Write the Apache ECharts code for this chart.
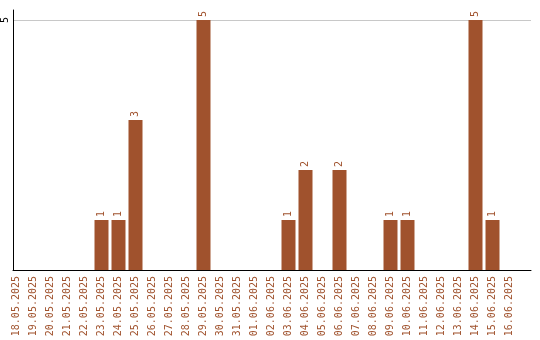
<!DOCTYPE html>
<html><head><meta charset="utf-8">
<script src="https://cdn.jsdelivr.net/npm/echarts@6/dist/echarts.min.js"></script>
<style>html,body{margin:0;padding:0;background:#fff}#c{width:540px;height:340px}</style>
</head><body><div id="c"></div>
<script>
var categories = ['18.05.2025','19.05.2025','20.05.2025','21.05.2025','22.05.2025','23.05.2025','24.05.2025','25.05.2025','26.05.2025','27.05.2025','28.05.2025','29.05.2025','30.05.2025','31.05.2025','01.06.2025','02.06.2025','03.06.2025','04.06.2025','05.06.2025','06.06.2025','07.06.2025','08.06.2025','09.06.2025','10.06.2025','11.06.2025','12.06.2025','13.06.2025','14.06.2025','15.06.2025','16.06.2025'];
var values = [0,0,0,0,0,1,1,3,0,0,0,5,0,0,0,0,1,2,0,2,0,0,1,1,0,0,0,5,1,0];
var yTicks = [5];

var brown = '#A0522D';
var font = 'DejaVu Sans Mono';
var chart = echarts.init(document.getElementById('c'), null, {renderer:'canvas'});
chart.setOption({
  animation: false,
  grid: [
    {left: 8, width: 510, top: 10, height: 260},
    {left: 10, width: 521, top: 10, height: 260}
  ],
  xAxis: [
    {type: 'category', gridIndex: 0, data: categories,
     axisLine: {show: false}, axisTick: {show: false},
     axisLabel: {rotate: 90, interval: 0, margin: 6, color: brown, fontFamily: font, fontSize: 10}},
    {type: 'value', gridIndex: 1, min: 0, max: 1,
     axisLine: {show: true, lineStyle: {color: '#000', width: 1}},
     axisTick: {show: false}, axisLabel: {show: false}, splitLine: {show: false}}
  ],
  yAxis: [
    {type: 'value', gridIndex: 0, min: 0, max: 5.2, show: false, splitLine: {show: false}},
    {type: 'value', gridIndex: 1, min: 0, max: 5.2, interval: 5,
     axisLine: {show: true, lineStyle: {color: '#000', width: 1}},
     axisTick: {show: false},
     axisLabel: {rotate: 90, margin: 3, color: '#000', fontFamily: font, fontSize: 10,
       formatter: function(v){ return yTicks.indexOf(v) >= 0 ? String(v) : ''; }},
     splitLine: {show: true, lineStyle: {color: ['rgba(0,0,0,0)', '#c8c8c8', 'rgba(0,0,0,0)'], width: 1}}}
  ],
  series: [{
    type: 'bar', xAxisIndex: 0, yAxisIndex: 0, data: values,
    barWidth: 14,
    itemStyle: {color: brown},
    label: {show: true, position: 'top', rotate: 90, align: 'left', verticalAlign: 'middle',
      distance: 3, color: brown, fontFamily: font, fontSize: 10,
      formatter: function(p){ return p.value ? String(p.value) : ''; }}
  }]
});
</script></body></html>
